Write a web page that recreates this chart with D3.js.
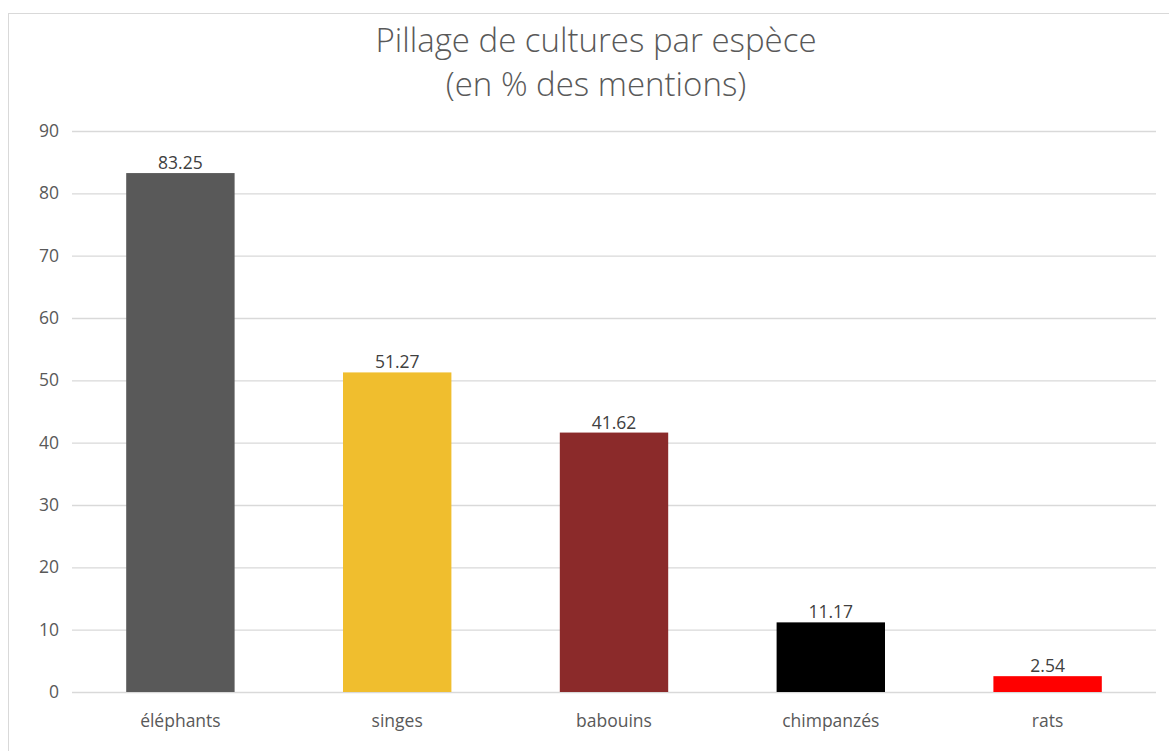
<!DOCTYPE html>
<html>
<head>
<meta charset="utf-8">
<script src="https://cdn.jsdelivr.net/npm/d3@7"></script>
<style>
  body { margin: 0; background: #fff; }
  text { font-family: "Open Sans", sans-serif; }
</style>
</head>
<body>
<svg width="1169" height="751"></svg>
<script>
// data
const species = ["éléphants", "singes", "babouins", "chimpanzés", "rats"];
const values = [83.25, 51.27, 41.62, 11.17, 2.54];
const colors = ["#595959", "#f0be2e", "#8b2a2a", "#000000", "#ff0000"];
const yTicks = [0, 10, 20, 30, 40, 50, 60, 70, 80, 90];
const titleLines = ["Pillage de cultures par espèce", "(en % des mentions)"];

let svg = d3.select("svg");

// chart frame
svg.append("rect")
    .attr("x", 8.5).attr("y", 13.5)
    .attr("width", 1170).attr("height", 760)
    .attr("fill", "#fff")
    .attr("stroke", "#d9d9d9");

const plotLeft = 72, plotRight = 1156, plotTop = 131, plotBottom = 692;

let x = d3.scaleBand().domain(species).range([plotLeft, plotRight]).paddingInner(0.5).paddingOuter(0.25);
let y = d3.scaleLinear().domain([0, 90]).range([plotBottom, plotTop]);

// gridlines
svg.append("g")
    .selectAll("line")
    .data(yTicks)
    .enter()
    .append("line")
    .attr("x1", plotLeft).attr("x2", plotRight)
    .attr("y1", d => y(d) + 0.5).attr("y2", d => y(d) + 0.5)
    .attr("stroke", "#d9d9d9")
    .attr("stroke-width", 1.3);

// y tick labels
svg.append("g")
    .selectAll("text")
    .data(yTicks)
    .enter()
    .append("text")
    .attr("x", 59)
    .attr("y", d => y(d))
    .attr("dy", "0.35em")
    .attr("text-anchor", "end")
    .attr("font-size", 17.5)
    .attr("fill", "#595959")
    .text(d => d);

// bars
svg.append("g")
    .selectAll("rect")
    .data(values)
    .enter()
    .append("rect")
    .attr("x", (d, i) => x(species[i]))
    .attr("y", d => y(d))
    .attr("width", x.bandwidth())
    .attr("height", d => plotBottom - y(d))
    .attr("fill", (d, i) => colors[i]);

// value labels
svg.append("g")
    .selectAll("text")
    .data(values)
    .enter()
    .append("text")
    .attr("x", (d, i) => x(species[i]) + x.bandwidth() / 2)
    .attr("y", d => y(d) - 4)
    .attr("text-anchor", "middle")
    .attr("font-size", 17.5)
    .attr("fill", "#404040")
    .text(d => d.toFixed(2));

// category labels
svg.append("g")
    .selectAll("text")
    .data(species)
    .enter()
    .append("text")
    .attr("x", d => x(d) + x.bandwidth() / 2)
    .attr("y", 727)
    .attr("text-anchor", "middle")
    .attr("font-size", 17.5)
    .attr("fill", "#595959")
    .text(d => d);

// title
svg.append("g")
    .selectAll("text")
    .data(titleLines)
    .enter()
    .append("text")
    .attr("x", 596)
    .attr("y", (d, i) => 52 + i * 44)
    .attr("text-anchor", "middle")
    .attr("font-size", 33)
    .attr("font-weight", 300)
    .attr("fill", "#595959")
    .text(d => d);
</script>
</body>
</html>
